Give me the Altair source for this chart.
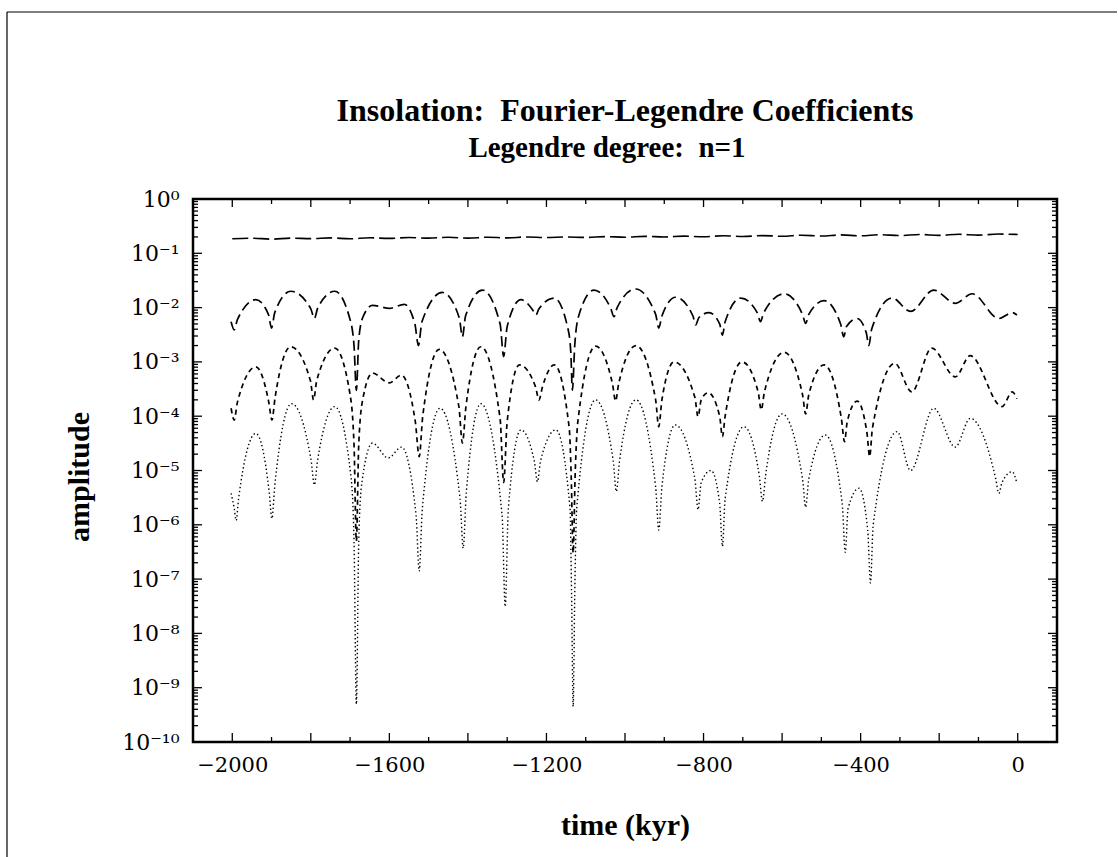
import json
import altair as alt
import pandas as pd

W, H = 864, 543

# ---- series (time in kyr, amplitude) ----
s1_t = [-2000, -1950, -1900, -1850, -1800, -1750, -1700, -1650, -1600, -1550, -1500, -1450, -1400,
        -1350, -1300, -1250, -1200, -1150, -1100, -1050, -1000, -950, -900, -850, -800, -750, -700,
        -650, -600, -550, -500, -450, -400, -350, -300, -250, -200, -150, -100, -50, 0]
s1_amp = [0.185, 0.19, 0.182, 0.19, 0.186, 0.192, 0.185, 0.193, 0.188, 0.195, 0.19, 0.197, 0.19,
          0.198, 0.192, 0.2, 0.195, 0.2, 0.196, 0.203, 0.198, 0.205, 0.2, 0.207, 0.202, 0.21, 0.204,
          0.212, 0.206, 0.215, 0.208, 0.218, 0.21, 0.22, 0.212, 0.222, 0.214, 0.224, 0.216, 0.226, 0.222]

s2_t = [-2003, -1995, -1987, -1940, -1908, -1900, -1892, -1851, -1800, -1791, -1782, -1739, -1700,
        -1690, -1684, -1678, -1668, -1643, -1600, -1562, -1535, -1526, -1517, -1465, -1422, -1414,
        -1406, -1363, -1318, -1309, -1300, -1265, -1235, -1227, -1219, -1180, -1145, -1138, -1134,
        -1128, -1118, -1079, -1036, -1028, -1020, -973, -922, -914, -906, -871, -827, -820, -812,
        -786, -759, -752, -745, -705, -663, -655, -647, -595, -548, -540, -532, -493, -451, -443,
        -436, -409, -386, -379, -372, -320, -273, -214, -159, -116, -48, -14, -2]
s2_amp = [5.5e-3, 3.9e-3, 6.0e-3, 1.4e-2, 7.5e-3, 4.2e-3, 8.0e-3, 2.0e-2, 9.5e-3, 6.3e-3, 1.0e-2,
          2.0e-2, 6.0e-3, 2.0e-3, 3.0e-4, 2.5e-3, 6.5e-3, 1.1e-2, 9.7e-3, 1.15e-2, 5.0e-3, 2.0e-3,
          5.5e-3, 1.9e-2, 6.5e-3, 2.9e-3, 7.0e-3, 2.1e-2, 5.0e-3, 1.25e-3, 4.5e-3, 1.4e-2, 9.0e-3,
          7.3e-3, 9.5e-3, 1.5e-2, 4.0e-3, 1.5e-3, 3.0e-4, 2.0e-3, 7.0e-3, 2.1e-2, 9.5e-3, 6.8e-3,
          1.0e-2, 2.2e-2, 7.5e-3, 4.2e-3, 7.0e-3, 1.55e-2, 7.0e-3, 4.8e-3, 6.5e-3, 8.1e-3, 5.0e-3,
          3.1e-3, 5.5e-3, 1.5e-2, 8.0e-3, 5.5e-3, 8.0e-3, 1.8e-2, 7.5e-3, 5.1e-3, 7.5e-3, 1.34e-2,
          5.0e-3, 2.9e-3, 4.5e-3, 6.3e-3, 3.5e-3, 2.0e-3, 4.0e-3, 1.5e-2, 8.5e-3, 2.1e-2, 1.2e-2,
          1.8e-2, 6.3e-3, 8.1e-3, 7.3e-3]

s3_t = [-2003, -1995, -1987, -1940, -1907, -1899, -1891, -1851, -1801, -1793, -1785, -1739, -1700,
        -1690, -1684, -1678, -1668, -1643, -1600, -1570, -1534, -1524, -1515, -1473, -1423, -1414,
        -1405, -1367, -1318, -1309, -1300, -1269, -1228, -1219, -1210, -1180, -1142, -1137, -1132,
        -1127, -1120, -1075, -1032, -1024, -1016, -972, -922, -914, -906, -875, -822, -814, -806,
        -788, -759, -752, -745, -702, -661, -653, -645, -595, -548, -540, -532, -493, -449, -441,
        -434, -409, -384, -377, -370, -313, -270, -219, -159, -121, -40, -14, -2]
s3_amp = [1.4e-4, 8.5e-5, 1.8e-4, 8.1e-4, 1.8e-4, 8.5e-5, 2.2e-4, 1.9e-3, 4.5e-4, 2.0e-4, 4.5e-4,
          1.8e-3, 2.5e-4, 3.0e-5, 5.0e-7, 3.0e-5, 2.0e-4, 6.2e-4, 4.1e-4, 5.7e-4, 8.0e-5, 1.8e-5,
          1.0e-4, 1.7e-3, 1.5e-4, 3.2e-5, 1.5e-4, 1.9e-3, 9.0e-5, 6.0e-6, 8.0e-5, 8.8e-4, 3.5e-4,
          2.0e-4, 3.5e-4, 8.8e-4, 6.0e-5, 8.0e-6, 3.0e-7, 8.0e-6, 8.0e-5, 1.95e-3, 4.0e-4, 1.9e-4,
          4.0e-4, 2.0e-3, 2.0e-4, 6.4e-5, 2.0e-4, 1.0e-3, 2.2e-4, 9.8e-5, 2.0e-4, 2.7e-4, 1.0e-4,
          4.2e-5, 1.0e-4, 1.0e-3, 2.8e-4, 1.3e-4, 2.8e-4, 1.5e-3, 2.5e-4, 1.1e-4, 2.5e-4, 8.8e-4,
          9.0e-5, 3.4e-5, 8.0e-5, 1.9e-4, 5.0e-5, 1.8e-5, 6.0e-5, 9.4e-4, 2.8e-4, 1.8e-3, 5.3e-4,
          1.3e-3, 1.5e-4, 2.8e-4, 2.1e-4]

s4_t = [-2003, -1995, -1990, -1984, -1940, -1906, -1899, -1892, -1849, -1799, -1791, -1783, -1739,
        -1698, -1690, -1684, -1678, -1670, -1643, -1603, -1569, -1532, -1524, -1516, -1471, -1420,
        -1412, -1404, -1367, -1313, -1305, -1297, -1265, -1231, -1223, -1215, -1176, -1140, -1136,
        -1132, -1128, -1123, -1075, -1030, -1022, -1014, -972, -922, -914, -906, -872, -822, -814,
        -806, -781, -759, -752, -745, -697, -658, -650, -642, -600, -548, -540, -532, -490, -447,
        -439, -432, -404, -382, -375, -368, -307, -273, -214, -159, -121, -56, -48, -40, -14, -2]
s4_amp = [3.8e-6, 2.0e-6, 1.2e-6, 3.0e-6, 4.8e-5, 4.0e-6, 1.3e-6, 5.0e-6, 1.7e-4, 1.5e-5, 5.4e-6,
          1.5e-5, 1.5e-4, 8.0e-6, 5.0e-7, 5.0e-10, 5.0e-7, 6.0e-6, 3.2e-5, 1.7e-5, 2.7e-5, 1.5e-6,
          1.4e-7, 2.0e-6, 1.4e-4, 3.0e-6, 3.7e-7, 4.0e-6, 1.7e-4, 1.5e-6, 3.1e-8, 2.0e-6, 5.6e-5,
          1.5e-5, 6.2e-6, 1.5e-5, 5.6e-5, 2.0e-6, 5.0e-8, 4.5e-10, 5.0e-8, 2.0e-6, 2.0e-4, 1.5e-5,
          4.1e-6, 1.5e-5, 2.0e-4, 5.0e-6, 8.0e-7, 5.0e-6, 6.9e-5, 7.0e-6, 1.9e-6, 6.0e-6, 1.0e-5,
          2.5e-6, 4.0e-7, 3.0e-6, 6.4e-5, 8.0e-6, 2.7e-6, 8.0e-6, 1.1e-4, 7.0e-6, 2.1e-6, 7.0e-6,
          4.5e-5, 2.5e-6, 3.1e-7, 2.0e-6, 4.7e-6, 8.0e-7, 8.5e-8, 1.0e-6, 5.2e-5, 1.0e-5, 1.4e-4,
          2.7e-5, 9.1e-5, 7.0e-6, 3.8e-6, 6.0e-6, 9.5e-6, 5.8e-6]

# ---- texts and axis tick values ----
title_text = "Insolation:\u00a0\u00a0Fourier-Legendre Coefficients"
subtitle_text = "Legendre degree:\u00a0\u00a0n=1"
x_title = "time (kyr)"
y_title = "amplitude"
x_labels = [-2000, -1600, -1200, -800, -400, 0]
x_ticks_long = [-2000, -1800, -1600, -1400, -1200, -1000, -800, -600, -400, -200, 0]
x_ticks_short = [-1900, -1700, -1500, -1300, -1100, -900, -700, -500, -300, -100]
y_decades = [1, 1e-1, 1e-2, 1e-3, 1e-4, 1e-5, 1e-6, 1e-7, 1e-8, 1e-9, 1e-10]
y_labels = ["10⁰", "10⁻¹", "10⁻²", "10⁻³", "10⁻⁴", "10⁻⁵", "10⁻⁶", "10⁻⁷", "10⁻⁸", "10⁻⁹", "10⁻¹⁰"]
minor_mult = [2, 3, 4, 5, 6, 7, 8, 9]
y_minor = [m * d for d in y_decades[1:] for m in minor_mult]

xs = alt.Scale(domain=[-2100, 100], nice=False, zero=False)
ys = alt.Scale(type="log", domain=[1e-10, 1], nice=False)

label_expr = json.dumps(y_labels, ensure_ascii=False) + "[round(-log(datum.value)/LN10)]"

# one shared axis definition per channel, given to every layer
x_axis = alt.Axis(values=x_labels, format="d", ticks=False, domain=False, grid=False,
                  labelFont="DejaVu Serif", labelFontSize=21, labelColor="black", labelPadding=12,
                  labelFlush=False, title=x_title, titleFont="Liberation Serif",
                  titleFontSize=30, titleFontWeight="bold", titleColor="black",
                  titleX=W / 2, titleY=83, titleBaseline="middle", titleAlign="center")
y_axis = alt.Axis(values=y_decades, labelExpr=label_expr, labelOverlap=False,
                  ticks=False, domain=False, grid=False, labelFont="DejaVu Serif", labelFontSize=22,
                  labelColor="black", labelPadding=14, labelFlush=False, labelBaseline="middle",
                  title=y_title, titleFont="Liberation Serif", titleFontSize=30,
                  titleFontWeight="bold", titleColor="black", titleX=-114, titleY=H / 2 + 6,
                  titleAngle=270, titleBaseline="middle", titleAlign="center")


def series(t, a, dash, width):
    df = pd.DataFrame({"t": t, "amp": a})
    return alt.Chart(df).mark_line(stroke="black", strokeDash=dash, strokeWidth=width,
                                   interpolate="monotone").encode(
        x=alt.X("t:Q", scale=xs, axis=x_axis),
        y=alt.Y("amp:Q", scale=ys, axis=y_axis),
    )


def yticks(vals, x0, x1):
    return alt.Chart(pd.DataFrame({"v": vals})).mark_rule(stroke="black", strokeWidth=1.3).encode(
        y=alt.Y("v:Q", scale=ys, axis=y_axis), x=alt.value(x0), x2=alt.value(x1))


def xticks(vals, y0, y1):
    return alt.Chart(pd.DataFrame({"v": vals})).mark_rule(stroke="black", strokeWidth=1.3).encode(
        x=alt.X("v:Q", scale=xs, axis=x_axis), y=alt.value(y0), y2=alt.value(y1))


one = pd.DataFrame({"k": [0]})
frame_left = alt.Chart(one).mark_rule(stroke="black", strokeWidth=1.2).encode(
    x=alt.value(-186), x2=alt.value(-186), y=alt.value(-187), y2=alt.value(H + 120))
frame_top = alt.Chart(one).mark_rule(stroke="black", strokeWidth=1.2).encode(
    x=alt.value(-186), x2=alt.value(W + 60), y=alt.value(-187), y2=alt.value(-187))
title_mark = alt.Chart(one).mark_text(text=title_text, font="Liberation Serif", fontSize=32,
                                      fontWeight="bold", color="black", align="center",
                                      baseline="alphabetic").encode(
    x=alt.value(W / 2), y=alt.value(-78))
subtitle_mark = alt.Chart(one).mark_text(text=subtitle_text, font="Liberation Serif", fontSize=29,
                                         fontWeight="bold", color="black", align="center",
                                         baseline="alphabetic").encode(
    x=alt.value(W / 2 - 18), y=alt.value(-42))

chart = alt.layer(
    series(s1_t, s1_amp, [16, 5], 1.6),
    series(s2_t, s2_amp, [10, 5], 1.7),
    series(s3_t, s3_amp, [5, 4], 1.7),
    series(s4_t, s4_amp, [1.4, 2.6], 1.4),
    yticks(y_decades[1:-1], 0, 9), yticks(y_minor, 0, 5),
    yticks(y_decades[1:-1], W, W - 9), yticks(y_minor, W, W - 5),
    xticks(x_ticks_long, H, H - 9), xticks(x_ticks_short, H, H - 5),
    xticks(x_ticks_long, 0, 8), xticks(x_ticks_short, 0, 5),
    frame_left, frame_top, title_mark, subtitle_mark,
).properties(
    width=W, height=H,
    autosize=alt.AutoSizeParams(type="none"),
    padding={"left": 193, "top": 199, "right": 61, "bottom": 115},
    background="white",
).configure_view(stroke="black", strokeWidth=2.5)

chart.save("out.html", embed_options={"renderer": "svg", "actions": False})
